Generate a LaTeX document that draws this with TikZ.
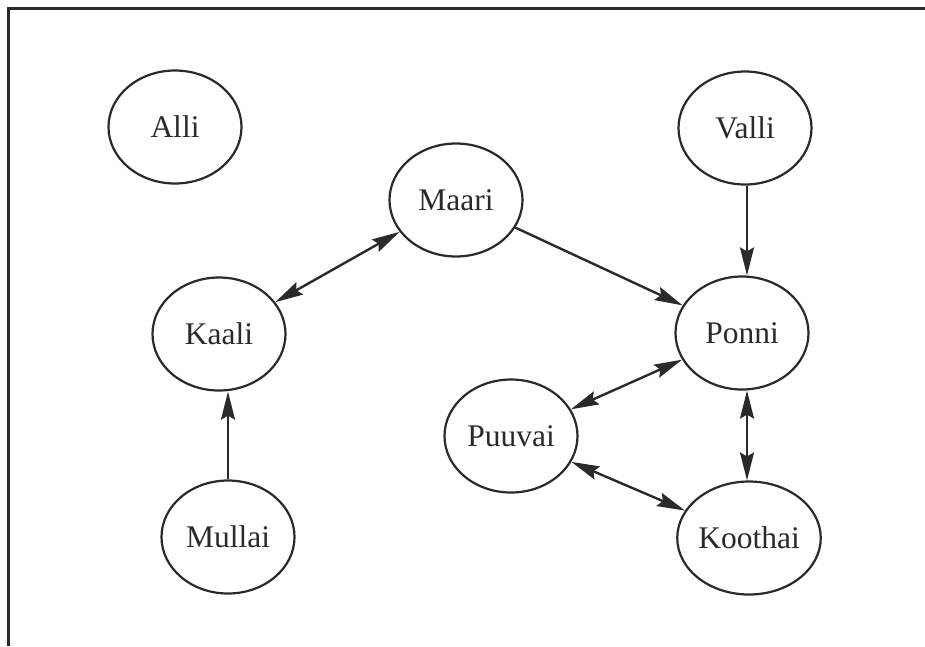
\documentclass[tikz,border=0pt]{standalone}
\usepackage{fontspec}
\setmainfont{Liberation Serif}
\usetikzlibrary{shapes.geometric,arrows.meta}
\definecolor{ink}{HTML}{2A2A2A}
\begin{document}
\begin{tikzpicture}[x=1pt,y=-1pt,
  person/.style={ellipse,draw=ink,line width=2.2pt,minimum width=133pt,minimum height=113pt,inner sep=0pt,font=\fontsize{31.5}{33}\selectfont,text=ink},
  tip/.tip={Stealth[length=28pt,width=14pt,inset=4pt]},
  link/.style={draw=ink,line width=2.4pt,-tip},
  blink/.style={draw=ink,line width=2.4pt,tip-tip},
  frame/.style={draw=ink,line width=2.4pt}]
\useasboundingbox (0,0) rectangle (925,646);
\coordinate (tl) at (8.5,8.5);
\coordinate (tr) at (925,8.5);
\coordinate (bl) at (8.5,646);
\draw[frame] (tr) -- (tl) -- (bl);

\node[person] (alli)   at (175,127) {Alli};
\node[person] (valli)  at (745,128) {Valli};
\node[person] (maari)  at (456,200) {Maari};
\node[person] (kaali)  at (219,334) {Kaali};
\node[person] (ponni)  at (742,333) {Ponni};
\node[person] (puuvai) at (511,436) {Puuvai};
\node[person] (mullai) at (228,537) {Mullai};
\node[person] (koothai) at (749,538) {Koothai};

\coordinate (vx) at (747,0);
\coordinate (mx) at (228,0);
\draw[link] (valli.south -| vx) -- (ponni.north -| vx);
\draw[link] (maari) -- (ponni);
\draw[blink] (kaali) -- (maari);
\draw[link] (mullai.north -| mx) -- (kaali.south -| mx);
\draw[blink] (puuvai) -- (ponni);
\draw[blink] (ponni.south -| vx) -- (koothai.north -| vx);
\draw[blink] (puuvai) -- (koothai);
\end{tikzpicture}
\end{document}
